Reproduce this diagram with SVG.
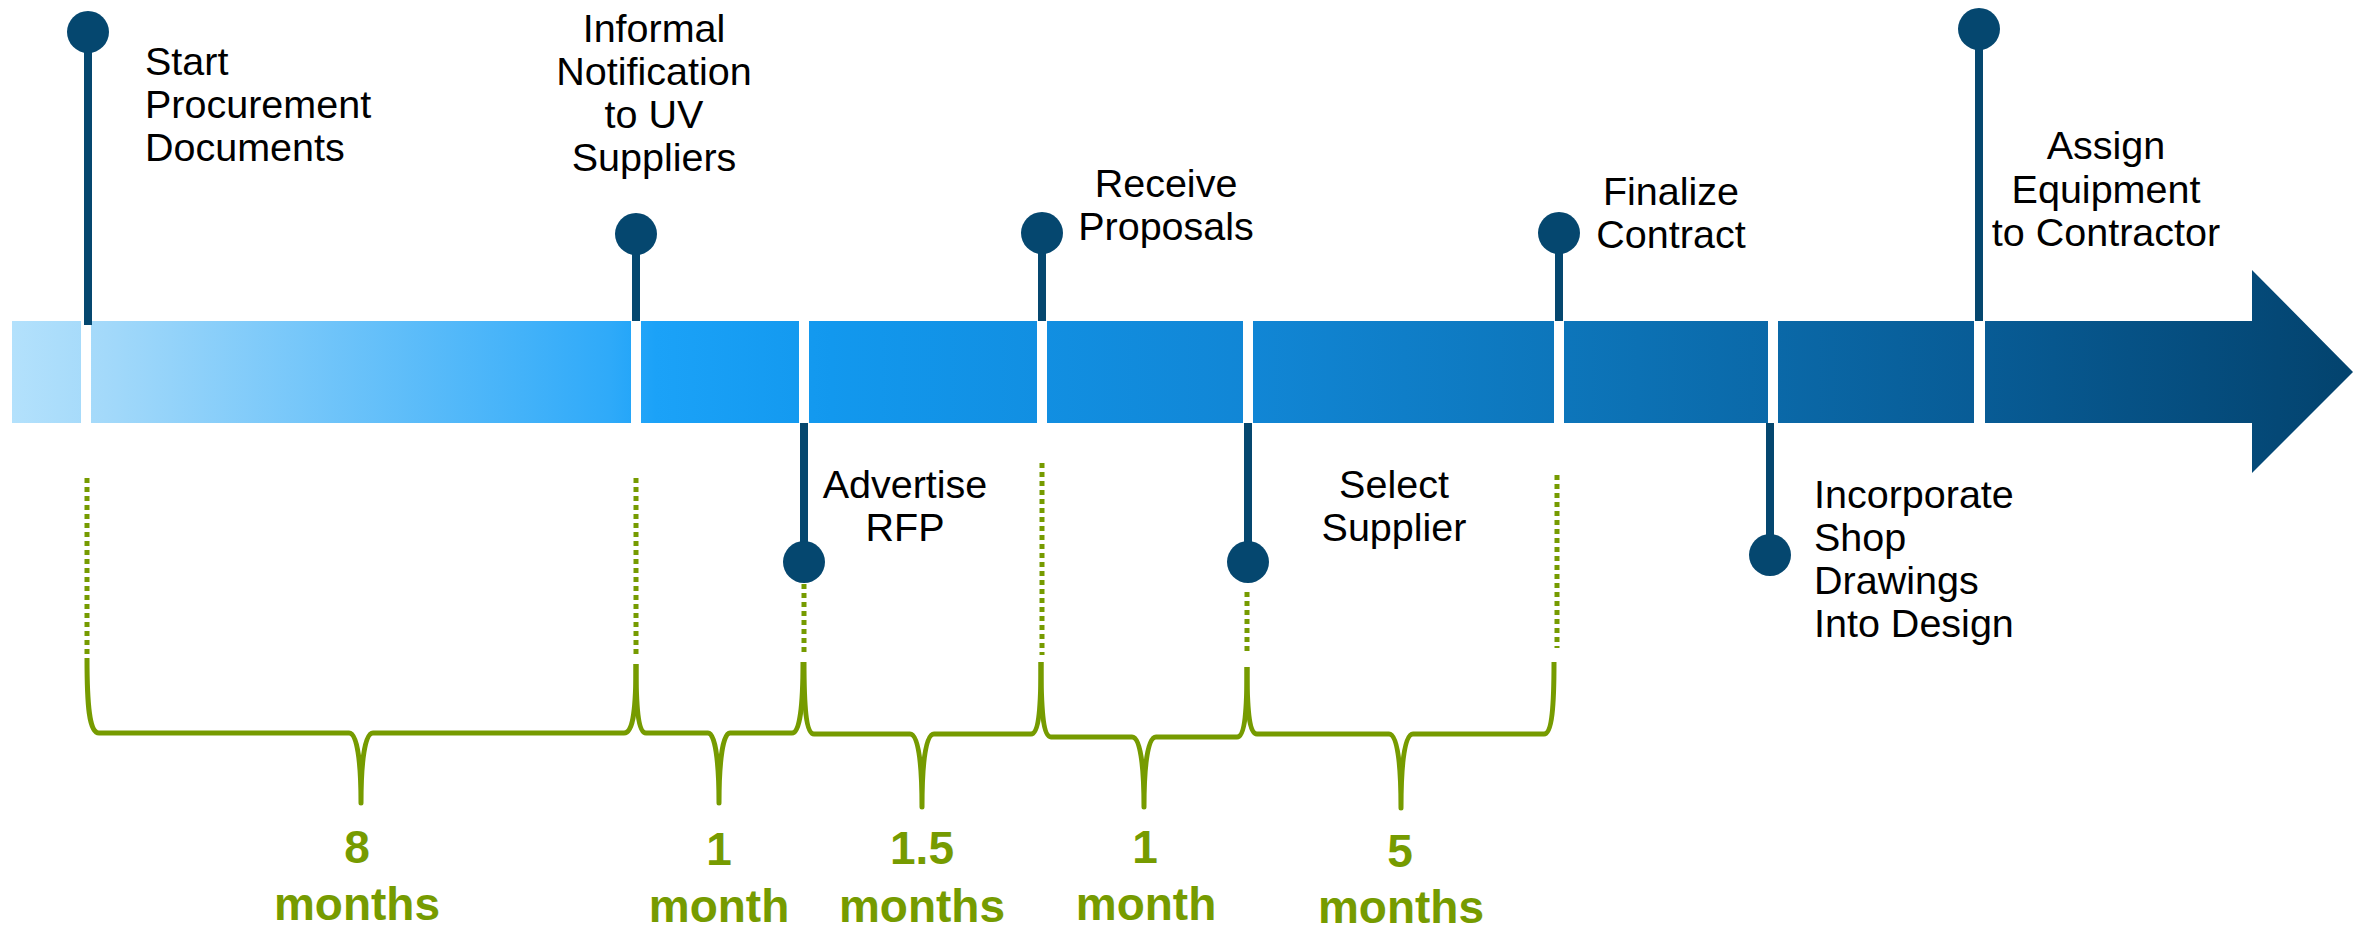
<svg xmlns="http://www.w3.org/2000/svg" width="2361" height="929" viewBox="0 0 2361 929">
<style>
.lbl{font-family:"Liberation Sans",Arial,sans-serif;font-size:39.5px;fill:#000}
.mid{text-anchor:middle}
.dur{font-family:"Liberation Sans",Arial,sans-serif;font-size:46px;font-weight:bold;fill:#769B00;text-anchor:middle}
.pin{fill:#05476F}
.stem{stroke:#05476F;stroke-width:8;fill:none}
.brace{stroke:#769B00;stroke-width:5;fill:none;stroke-linejoin:round}
.dot{stroke:#769B00;stroke-width:5;stroke-dasharray:5 4;fill:none}
</style>
<defs>
<linearGradient id="bar" gradientUnits="userSpaceOnUse" x1="12" y1="0" x2="2353" y2="0">
<stop offset="0" stop-color="#B3E1FC"/>
<stop offset="0.04" stop-color="#A3D9FA"/>
<stop offset="0.255" stop-color="#2FAAF9"/>
<stop offset="0.275" stop-color="#1BA2F8"/>
<stop offset="0.35" stop-color="#1298EE"/>
<stop offset="0.53" stop-color="#1186D5"/>
<stop offset="0.66" stop-color="#0D76BB"/>
<stop offset="0.84" stop-color="#085C96"/>
<stop offset="1" stop-color="#03436E"/>
</linearGradient>
</defs>
<g id="timeline" fill="url(#bar)">
<rect x="12" y="321" width="69" height="102"/>
<rect x="91" y="321" width="540" height="102"/>
<rect x="641" y="321" width="158" height="102"/>
<rect x="809" y="321" width="228" height="102"/>
<rect x="1047" y="321" width="196" height="102"/>
<rect x="1253" y="321" width="301" height="102"/>
<rect x="1564" y="321" width="204" height="102"/>
<rect x="1778" y="321" width="196" height="102"/>
<polygon points="1985,321 2252,321 2252,270 2353,372 2252,473 2252,423 1985,423"/>
</g>
<g id="connectors">
<line class="stem" x1="88" y1="32" x2="88" y2="325"/>
<line class="stem" x1="636" y1="234" x2="636" y2="321"/>
<line class="stem" x1="804" y1="423" x2="804" y2="562"/>
<line class="stem" x1="1042" y1="233" x2="1042" y2="321"/>
<line class="stem" x1="1248" y1="423" x2="1248" y2="562"/>
<line class="stem" x1="1559" y1="233" x2="1559" y2="321"/>
<line class="stem" x1="1770" y1="423" x2="1770" y2="555"/>
<line class="stem" x1="1979" y1="29" x2="1979" y2="321"/>
<line class="dot" x1="87" y1="478" x2="87" y2="655"/>
<line class="dot" x1="636" y1="478" x2="636" y2="655"/>
<line class="dot" x1="804" y1="584" x2="804" y2="655"/>
<line class="dot" x1="1042" y1="463" x2="1042" y2="655"/>
<line class="dot" x1="1247" y1="592" x2="1247" y2="655"/>
<line class="dot" x1="1557" y1="475" x2="1557" y2="648"/>
</g>
<g id="m-start"><circle class="pin" cx="88" cy="32" r="21"/>
<text class="lbl" x="145" y="75">Start</text><text class="lbl" x="145" y="118">Procurement</text><text class="lbl" x="145" y="161">Documents</text></g>
<g id="m-informal"><circle class="pin" cx="636" cy="234" r="21"/>
<text class="lbl mid" x="654" y="42">Informal</text><text class="lbl mid" x="654" y="85">Notification</text><text class="lbl mid" x="654" y="128">to UV</text><text class="lbl mid" x="654" y="171">Suppliers</text></g>
<g id="m-advertise"><circle class="pin" cx="804" cy="562" r="21"/>
<text class="lbl mid" x="905" y="498">Advertise</text><text class="lbl mid" x="905" y="541">RFP</text></g>
<g id="m-receive"><circle class="pin" cx="1042" cy="233" r="21"/>
<text class="lbl mid" x="1166" y="197">Receive</text><text class="lbl mid" x="1166" y="240">Proposals</text></g>
<g id="m-select"><circle class="pin" cx="1248" cy="562" r="21"/>
<text class="lbl mid" x="1394" y="498">Select</text><text class="lbl mid" x="1394" y="541">Supplier</text></g>
<g id="m-finalize"><circle class="pin" cx="1559" cy="233" r="21"/>
<text class="lbl mid" x="1671" y="205">Finalize</text><text class="lbl mid" x="1671" y="248">Contract</text></g>
<g id="m-incorporate"><circle class="pin" cx="1770" cy="555" r="21"/>
<text class="lbl" x="1814" y="508">Incorporate</text><text class="lbl" x="1814" y="551">Shop</text><text class="lbl" x="1814" y="594">Drawings</text><text class="lbl" x="1814" y="637">Into Design</text></g>
<g id="m-assign"><circle class="pin" cx="1979" cy="29" r="21"/>
<text class="lbl mid" x="2106" y="159">Assign</text><text class="lbl mid" x="2106" y="203">Equipment</text><text class="lbl mid" x="2106" y="246">to Contractor</text></g>
<g id="d-8">
<path class="brace" d="M87,658 C87,705 89,733 99,733 L349,733 C357,733 361,760 361,803 C361,760 365,733 373,733 L624,733 C634,733 636,705 636,664"/>
<text class="dur" x="357" y="863">8</text><text class="dur" x="357" y="920">months</text></g>
<g id="d-1a">
<path class="brace" d="M636,664 C636,705 638,733 646,733 L708,733 C715,733 719,760 719,803 C719,760 723,733 730,733 L792,733 C800,733 803,705 803,662"/>
<text class="dur" x="719" y="865">1</text><text class="dur" x="719" y="922">month</text></g>
<g id="d-15">
<path class="brace" d="M804,662 C804,705 806,734 814,734 L910,734 C918,734 922,760 922,807 C922,760 926,734 934,734 L1031,734 C1039,734 1041,705 1041,662"/>
<text class="dur" x="922" y="864">1.5</text><text class="dur" x="922" y="922">months</text></g>
<g id="d-1b">
<path class="brace" d="M1041,662 C1041,708 1043,737 1051,737 L1132,737 C1140,737 1144,763 1144,807 C1144,763 1148,737 1156,737 L1237,737 C1245,737 1247,708 1247,667"/>
<text class="dur" x="1145" y="863">1</text><text class="dur" x="1146" y="920">month</text></g>
<g id="d-5">
<path class="brace" d="M1247,667 C1247,708 1249,734 1257,734 L1389,734 C1397,734 1401,760 1401,808 C1401,760 1405,734 1413,734 L1544,734 C1552,734 1554,705 1554,662"/>
<text class="dur" x="1400" y="867">5</text><text class="dur" x="1401" y="923">months</text></g>
</svg>
